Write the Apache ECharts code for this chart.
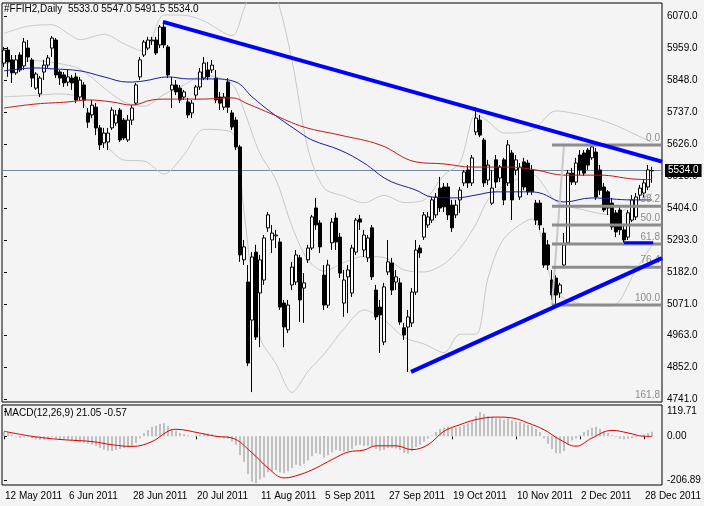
<!DOCTYPE html>
<html><head><meta charset="utf-8">
<script src="https://cdn.jsdelivr.net/npm/echarts@6/dist/echarts.min.js"></script>
<style>html,body{margin:0;padding:0;background:#f4f4f4}#c{width:704px;height:506px}</style>
</head><body><div id="c"></div>
<script>
const symbolName = '#FFIH2,Daily';
const macdTitle = 'MACD(12,26,9) 21.05 -0.57';
const tickDates = ['12 May 2011','6 Jun 2011','28 Jun 2011','20 Jul 2011','11 Aug 2011','5 Sep 2011','27 Sep 2011','19 Oct 2011','10 Nov 2011','2 Dec 2011','28 Dec 2011'];
const tickEvery = 16;
const priceTicks = [6070,5959,5848,5737,5626,5515,5404,5293,5182,5071,4963,4852,4741];
const macdTicks = [119.71, 0, -206.89];

const opens = [5907,5952,5918,5873,5935,5897,5959,5918,5820,5800,5876,5900,5959,5987,5876,5866,5841,5855,5859,5789,
5831,5734,5727,5754,5682,5630,5633,5682,5699,5744,5709,5640,5709,5768,5859,5935,5959,5984,5987,5970,
6032,5963,5814,5831,5820,5789,5772,5734,5796,5824,5855,5883,5883,5855,5789,5754,5841,5734,5709,5616,
5224,5147,5015,5251,5109,5154,5335,5293,5307,5286,5074,4981,5137,5147,5231,5126,5224,5265,5404,5352,
5171,5067,5283,5369,5303,5074,5165,5109,5251,5366,5258,5231,5335,5119,5060,4939,5182,5213,5147,5144,
4988,4991,5005,5112,5265,5303,5345,5362,5380,5473,5477,5477,5414,5380,5432,5491,5536,5491,5668,5709,
5640,5501,5421,5571,5508,5571,5491,5595,5536,5442,5564,5560,5536,5421,5421,5317,5276,5154,5161,5109,
5206,5283,5525,5494,5588,5595,5605,5578,5598,5536,5477,5460,5421,5387,5397,5328,5303,5362,5373,5449,
5456,5477,5533];
const closes = [5952,5911,5873,5918,5883,5980,5928,5855,5869,5855,5900,5925,5994,5866,5855,5838,5859,5838,5779,5848,
5779,5702,5761,5682,5623,5664,5664,5744,5727,5640,5647,5709,5751,5831,5918,5980,5987,5987,5942,6032,
5970,5866,5831,5807,5779,5807,5727,5768,5824,5876,5907,5859,5900,5779,5768,5789,5754,5685,5616,5241,
5269,4866,5234,4956,5224,5300,5380,5317,5310,5060,4991,5067,5199,5241,5085,5144,5265,5373,5345,5269,
5067,5206,5355,5286,5178,5154,5189,5265,5362,5355,5310,5300,5165,5026,5033,5130,5217,5119,5165,5008,
4963,5026,5112,5258,5248,5380,5373,5432,5442,5404,5408,5380,5335,5414,5466,5529,5491,5578,5716,5657,
5491,5553,5473,5494,5546,5432,5623,5432,5571,5546,5477,5460,5460,5362,5345,5206,5206,5102,5102,5137,
5276,5525,5494,5560,5536,5525,5553,5616,5442,5466,5397,5404,5338,5321,5328,5293,5387,5432,5442,5473,
5491,5536,5534];
const highs = [5963,5963,5935,5935,5945,5994,5987,5925,5876,5862,5918,5935,6001,5994,5883,5876,5883,5866,5873,5859,
5841,5751,5779,5768,5692,5682,5682,5754,5744,5751,5716,5727,5761,5838,5928,5987,5998,5998,5998,6039,
6053,5970,5859,5848,5831,5814,5786,5779,5831,5890,5928,5911,5918,5883,5807,5803,5855,5744,5720,5623,
5293,5206,5251,5276,5241,5310,5390,5345,5328,5300,5085,5085,5217,5258,5241,5178,5276,5380,5439,5362,
5206,5224,5369,5387,5317,5189,5206,5276,5369,5380,5328,5310,5345,5137,5085,5144,5293,5231,5189,5161,
5005,5050,5126,5293,5276,5390,5390,5442,5456,5512,5491,5491,5432,5432,5477,5536,5553,5588,5754,5727,
5647,5571,5536,5588,5553,5578,5640,5605,5588,5560,5578,5571,5553,5432,5432,5335,5293,5189,5171,5144,
5317,5536,5543,5578,5605,5605,5612,5623,5612,5553,5491,5466,5439,5397,5414,5345,5397,5449,5456,5484,
5501,5553,5547];
const lows = [5893,5859,5838,5866,5876,5883,5911,5824,5814,5789,5848,5890,5928,5855,5831,5824,5827,5814,5768,5779,
5751,5682,5716,5657,5605,5612,5605,5675,5689,5633,5640,5633,5692,5761,5848,5928,5952,5970,5935,5959,
5959,5855,5751,5796,5768,5779,5716,5716,5779,5814,5848,5848,5873,5768,5744,5744,5734,5675,5605,5217,
5206,4855,4765,4946,4921,5137,5321,5248,5265,5050,4921,4970,5119,5137,5008,5005,5213,5258,5328,5248,
5050,5057,5258,5258,5161,5026,5039,5095,5241,5328,5234,5217,5154,5015,4901,4928,5171,5102,5119,4998,
4946,4835,4991,5102,5231,5293,5335,5352,5369,5390,5390,5362,5321,5369,5387,5480,5473,5480,5657,5650,
5477,5484,5414,5473,5494,5414,5480,5362,5518,5432,5466,5449,5449,5345,5328,5196,5189,5085,5067,5092,
5196,5276,5484,5484,5518,5515,5536,5571,5432,5449,5390,5380,5328,5303,5310,5283,5293,5355,5362,5432,
5442,5466,5491.5];

// moving averages & Bollinger bands, read as [bar, price]
const maBlue = [[0,5880],[8,5890],[12,5887],[19,5880],[25,5859],[31,5841],[35,5845],[41,5859],[46,5852],[52,5852],[58,5841],[62,5790],[67,5734],[73,5675],[77,5640],[84,5605],[90,5560],[96,5501],[103,5466],[107,5442],[113,5439],[118,5449],[123,5460],[131,5460],[134,5456],[140,5425],[147,5439],[157,5432],[162,5432]];
const maRed = [[0,5751],[8,5765],[16,5772],[21,5779],[27,5772],[32,5761],[37,5779],[41,5782],[49,5782],[57,5786],[61,5765],[67,5730],[75,5685],[84,5657],[94,5623],[103,5564],[110,5557],[117,5546],[126,5546],[133,5536],[140,5518],[149,5518],[157,5505],[162,5502]];
const bbUpper = [[0,6010],[6,6035],[12,6040],[16,6010],[19,5988],[25,6007],[30,5974],[35,5947],[40,6074],[45,6073],[50,6053],[57,6002],[60,6095],[64,6228],[68,6140],[72,5916],[76,5609],[80,5473],[85,5445],[90,5422],[95,5448],[100,5423],[105,5432],[110,5518],[114,5562],[118,5730],[121,5705],[125,5664],[132,5674],[138,5741],[145,5725],[152,5696],[158,5658],[162,5632]];
const bbMiddle = [[0,5905],[8,5915],[14,5905],[19,5886],[25,5821],[30,5772],[35,5757],[40,5798],[45,5831],[50,5865],[57,5834],[60,5743],[64,5592],[68,5502],[72,5340],[76,5223],[80,5185],[85,5215],[90,5236],[95,5232],[100,5189],[105,5182],[110,5210],[114,5264],[118,5348],[121,5433],[125,5481],[132,5520],[138,5427],[145,5397],[152,5380],[158,5424],[162,5454]];
const bbLower = [[0,5790],[8,5795],[14,5800],[19,5784],[25,5635],[30,5570],[35,5567],[40,5522],[45,5589],[50,5677],[57,5666],[60,5391],[64,4956],[68,4864],[72,4764],[76,4837],[80,4897],[85,4985],[90,5050],[95,5016],[100,4955],[105,4932],[110,4902],[114,4966],[118,4966],[121,5161],[125,5298],[132,5366],[138,5113],[145,5069],[152,5064],[158,5190],[162,5276]];

const macdHist = [22,18,5,-5,-8,-5,-3,-8,-15,-18,-15,-12,-5,-10,-15,-18,-15,-18,-22,-28,
-30,-35,-40,-45,-55,-62,-68,-70,-65,-60,-55,-52,-45,-30,-10,15,30,45,50,58,
62,48,35,25,15,10,5,3,5,8,12,12,10,2,-5,-10,-12,-25,-40,-90,
-120,-180,-215,-222,-205,-195,-170,-165,-160,-170,-175,-165,-150,-135,-140,-130,-115,-95,-80,-85,
-100,-90,-75,-65,-70,-72,-70,-60,-45,-40,-45,-45,-50,-60,-68,-65,-55,-55,-58,-65,
-78,-82,-72,-50,-40,-25,-10,5,20,35,42,45,40,40,45,55,60,70,95,115,
105,95,90,85,85,80,85,75,70,68,62,55,50,35,20,-10,-35,-60,-80,-82,
-70,-40,-20,-10,5,20,30,40,45,35,25,15,5,-5,-12,-15,-12,-8,-5,0,
8,15,21.05];
const macdSignal = [[0,24],[7,0],[14,-15],[22,-25],[27,-40],[32,-48],[37,-25],[41,24],[43,33],[49,15],[53,0],[57,-8],[62,-78],[66,-150],[70,-197],[74,-181],[78,-150],[82,-110],[86,-75],[90,-65],[93,-45],[98,-45],[102,-63],[106,-40],[110,24],[114,55],[118,79],[123,91],[127,87],[131,63],[135,31],[139,-16],[143,-47],[147,-8],[152,28],[156,16],[160,0],[162,-0.57]];

const trendDown = [[39.75,6050],[164.5,5565]];
const trendUp = [[101.75,4835],[164.5,5230]];
const supportShort = [[155,5283],[162.3,5283]];
const fiboNames = ['0.0','38.2','50.0','61.8','76.4','100.0','161.8'];
const fiboPrices = [5623,5410,5345,5279,5198,5067,4724];
const fiboStart = 137;
const fiboDiagonal = [[137,5067],[140,5623]];
const bidPrice = 5534;

const N = 165;
const cats = Array.from({length: N}, (_, i) => String(i));
const candle = opens.map((o, i) => [o, closes[i], lows[i], highs[i]]);
const last = opens.length - 1;
const titleText = symbolName + '  ' + [opens[last], highs[last], lows[last], closes[last]].map(v => v.toFixed(1)).join(' ');
const FONT = 'Liberation Sans';
const isTick = (i) => i % tickEvery === 0;

const lineS = (data, color, width, smooth, extra) => Object.assign({
  type: 'line', xAxisIndex: 1, yAxisIndex: 0, data, showSymbol: false, symbol: 'none',
  smooth: smooth, lineStyle: {color, width}, silent: true, z: 3
}, extra || {});

const chart = echarts.init(document.getElementById('c'), null, {renderer: 'canvas'});
chart.setOption({
  backgroundColor: '#f4f4f4',
  animation: false,
  textStyle: {fontFamily: FONT, fontSize: 10, color: '#000'},
  title: [
    {text: titleText, left: 4, top: 4, padding: 0, textStyle: {fontFamily: FONT, fontSize: 10, fontWeight: 'normal', color: '#000'}},
    {text: macdTitle, left: 4, top: 408, padding: 0, textStyle: {fontFamily: FONT, fontSize: 10, fontWeight: 'normal', color: '#000'}}
  ],
  grid: [
    {left: 2, top: 3, width: 660, height: 399, show: true, borderColor: '#000', borderWidth: 1, backgroundColor: 'transparent'},
    {left: 2, top: 405, width: 660, height: 80, show: true, borderColor: '#000', borderWidth: 1, backgroundColor: 'transparent'}
  ],
  xAxis: [
    {type: 'category', gridIndex: 0, data: cats, boundaryGap: true, show: false},
    {type: 'value', gridIndex: 0, min: -0.5, max: N - 0.5, show: false},
    {type: 'category', gridIndex: 1, data: cats, boundaryGap: true,
      axisLine: {show: false},
      axisTick: {show: true, alignWithLabel: true, interval: isTick, length: 3, lineStyle: {color: '#000'}},
      axisLabel: {interval: isTick, formatter: (v) => tickDates[Math.round(Number(v) / tickEvery)] || '', align: 'left', margin: 6, color: '#000', fontSize: 10, fontFamily: FONT, padding: [0, 0, 0, 1]},
      splitLine: {show: false}},
    {type: 'value', gridIndex: 1, min: -0.5, max: N - 0.5, show: false}
  ],
  yAxis: [
    {type: 'value', gridIndex: 0, position: 'right', min: 4730.6, max: 6115.5,
      splitLine: {show: false}, axisLine: {show: false},
      axisTick: {show: true, length: 3, customValues: priceTicks, lineStyle: {color: '#000'}},
      axisLabel: {customValues: priceTicks, formatter: v => v.toFixed(1), margin: 5, color: '#000', fontSize: 10, fontFamily: FONT}},
    {type: 'value', gridIndex: 1, position: 'right', min: -230.5, max: 148.1,
      splitLine: {show: false}, axisLine: {show: false},
      axisTick: {show: true, length: 3, customValues: macdTicks, lineStyle: {color: '#000'}},
      axisLabel: {customValues: macdTicks, formatter: v => v.toFixed(2), margin: 5, color: '#000', fontSize: 10, fontFamily: FONT}}
  ],
  series: [
    lineS(bbUpper, '#c8c8c8', 1, 0.3),
    lineS(bbMiddle, '#c8c8c8', 1, 0.3),
    lineS(bbLower, '#c8c8c8', 1, 0.3),
    {type: 'candlestick', xAxisIndex: 0, yAxisIndex: 0, data: candle, barWidth: 3, z: 4,
      itemStyle: {color: '#ffffff', color0: '#000000', borderColor: '#000000', borderColor0: '#000000', borderWidth: 1},
      markLine: {silent: true, symbol: 'none', z: 1,
        lineStyle: {color: '#778899', width: 1, type: 'solid'},
        label: {show: true, position: 'end', distance: 3, formatter: () => bidPrice.toFixed(1), color: '#fff', backgroundColor: '#000', padding: [2, 3, 1, 3], fontSize: 10, fontFamily: FONT},
        data: [{yAxis: bidPrice}]}},
    lineS(maBlue, '#1a1aa6', 1, 0.4, {z: 5}),
    lineS(maRed, '#c01818', 1, 0.4, {z: 5}),
    lineS(fiboDiagonal, '#c8c8c8', 2, false, {z: 5}),
    {type: 'custom', xAxisIndex: 1, yAxisIndex: 0, z: 6, silent: true,
      data: fiboPrices.map((p, k) => [fiboStart, p, k]),
      renderItem: (params, api) => {
        const k = api.value(2);
        const p = api.value(1);
        const a = api.coord([api.value(0), p]);
        const b = api.coord([N - 0.5, p]);
        const cs = params.coordSys;
        const bottom = cs.y + cs.height;
        const children = [];
        if (a[1] <= bottom) {
          children.push({type: 'line', shape: {x1: a[0], y1: a[1], x2: b[0], y2: b[1]}, style: {stroke: '#8c8c8c', lineWidth: 3}});
        }
        children.push({type: 'text', x: b[0] - 2, y: Math.min(a[1], bottom) - 2,
          style: {text: fiboNames[k], align: 'right', verticalAlign: 'bottom', fill: '#8c8c8c', font: '10px "Liberation Sans"'}});
        return {type: 'group', children};
      }},
    lineS(trendDown, '#0000ff', 4, false, {z: 7}),
    lineS(trendUp, '#0000ff', 4, false, {z: 7}),
    lineS(supportShort, '#0000ff', 3, false, {z: 7}),
    {type: 'bar', xAxisIndex: 2, yAxisIndex: 1, data: macdHist, barWidth: 2, itemStyle: {color: '#c0c0c0'}, silent: true},
    {type: 'line', xAxisIndex: 3, yAxisIndex: 1, data: macdSignal, showSymbol: false, smooth: 0.4, lineStyle: {color: '#e00000', width: 1}, silent: true}
  ]
});
</script></body></html>
